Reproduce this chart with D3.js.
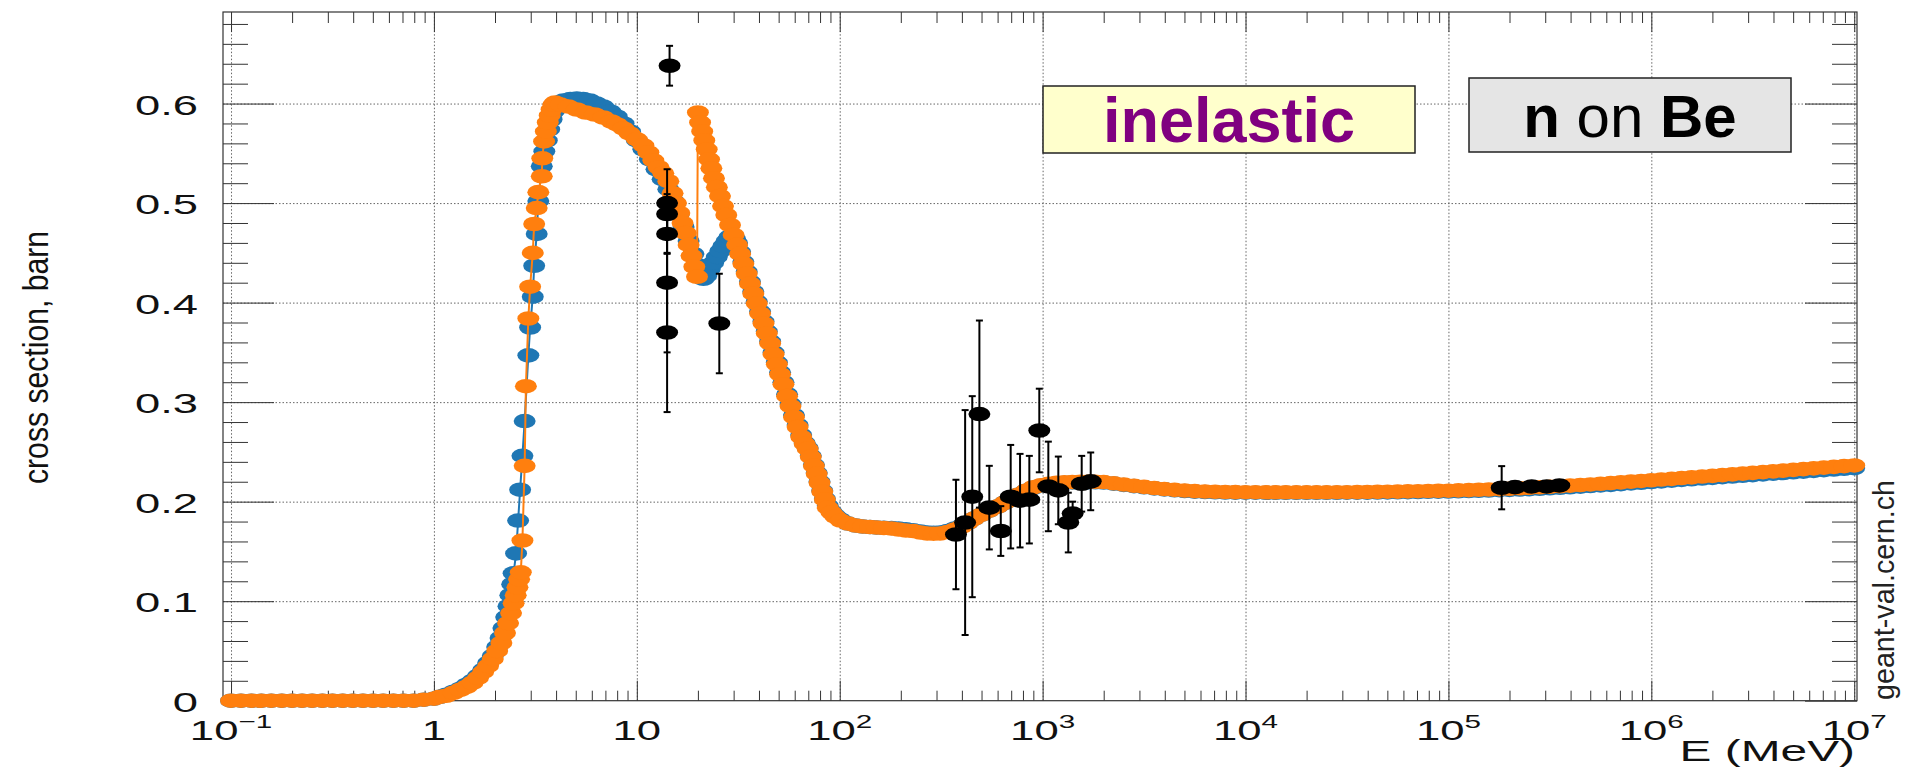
<!DOCTYPE html>
<html>
<head>
<meta charset="utf-8">
<script src="https://d3js.org/d3.v7.min.js"></script>
<style>
body{margin:0;background:#fff;}
svg{display:block;font-family:"Liberation Sans",Arial,sans-serif;}
</style>
</head>
<body>
<svg width="1912" height="768"></svg>
<script>

// model 1 (orange)
const orangeE=[0.1,0.112,0.126,0.141,0.158,0.178,0.2,0.224,0.251,0.282,0.316,0.355,0.398,0.447,0.501,0.562,0.631,0.708,0.794,0.891,1.0,
1.07,1.15,1.25,1.35,1.45,1.55,1.65,1.75,1.85,1.95,2.05,2.15,2.24,2.32,2.40,2.47,2.53,2.58,2.63,2.68,
2.73,2.80,2.84,2.92,2.98,3.07,3.12,3.21,3.27,3.40,3.42,3.49,3.56,3.64,3.72,3.80,3.88,3.95,
4.2,4.6,5.06,5.6,6.2,6.84,7.5,8.0,8.58,9.2,10.0,10.77,11.4,12.06,12.8,13.5,14.3,15.0,15.6,16.2,16.8,17.4,18.0,18.6,19.2,19.8,
20.0,20.5,21.0,21.5,22.1,22.7,23.3,24.0,24.8,25.7,26.6,27.6,28.8,30.0,31.2,32.3,33.5,34.8,36.1,37.5,39.0,40.5,42.1,43.7,45.4,47.2,49.0,50.8,52.8,55.0,57.2,59.5,62.0,64.6,67.2,69.5,72.0,74.6,77.0,79.5,82.0,84.5,87.3,91.0,95.0,
101,110,120,130,141,152,165,180,195,212,230,250,270,290,312,340,370,400,430,460,500,545,600,650,700,760,830,900,980,1070,1170,1280,1400,1530,1670,1820,
2000,2240,2510,2820,3160,3550,3980,4470,5010,5620,6310,7080,7940,8910,
1.0e4,1.12e4,1.26e4,1.41e4,1.58e4,1.78e4,2.0e4,2.24e4,2.51e4,2.82e4,3.16e4,3.55e4,3.98e4,4.47e4,5.01e4,5.62e4,6.31e4,7.08e4,7.94e4,8.91e4,
1.0e5,1.12e5,1.26e5,1.41e5,1.58e5,1.78e5,2.0e5,2.24e5,2.51e5,2.82e5,3.16e5,3.55e5,3.98e5,4.47e5,5.01e5,5.62e5,6.31e5,7.08e5,7.94e5,8.91e5,
1.0e6,1.12e6,1.26e6,1.41e6,1.58e6,1.78e6,2.0e6,2.24e6,2.51e6,2.82e6,3.16e6,3.55e6,3.98e6,4.47e6,5.01e6,5.62e6,6.31e6,7.08e6,7.94e6,8.91e6,1.0e7];
const orangeXS=[0,0,0,0,0,0,0,0,0,0,0,0,0,0,0,0,0,0,0,0.001,0.002,
0.004,0.005,0.008,0.011,0.014,0.018,0.023,0.029,0.035,0.042,0.050,0.058,0.068,0.078,0.088,0.098,0.106,0.114,0.122,0.129,
0.161,0.236,0.316,0.384,0.416,0.450,0.479,0.495,0.511,0.527,0.545,0.562,0.572,0.581,0.588,0.594,0.599,0.601,
0.599,0.597,0.594,0.591,0.589,0.586,0.582,0.579,0.575,0.570,0.564,0.558,0.551,0.543,0.536,0.530,0.522,0.510,0.500,0.490,0.480,0.470,0.458,0.447,0.436,0.426,
0.591,0.581,0.572,0.563,0.554,0.544,0.535,0.525,0.516,0.507,0.497,0.488,0.478,0.468,0.458,0.449,0.439,0.429,0.419,0.409,0.399,0.389,0.379,0.369,0.359,0.348,0.338,0.328,0.318,0.306,0.296,0.285,0.275,0.265,0.258,0.253,0.245,0.236,0.228,0.219,0.210,0.202,0.194,0.189,0.185,
0.181,0.178,0.176,0.175,0.1745,0.174,0.1735,0.173,0.172,0.171,0.1705,0.169,0.168,0.1678,0.168,0.1695,0.172,0.175,0.179,0.183,0.187,0.191,0.195,0.199,0.203,0.207,0.211,0.2145,0.2165,0.218,0.219,0.2195,0.2197,0.2199,0.22,0.22,
0.2197,0.2185,0.2172,0.2160,0.2148,0.2137,0.2127,0.2118,0.2112,0.2106,0.2102,0.2099,0.2097,0.2096,
0.2095,0.2095,0.2094,0.2094,0.2094,0.2094,0.2094,0.2094,0.2094,0.2095,0.2095,0.2096,0.2097,0.2098,0.2100,0.2101,0.2103,0.2105,0.2107,0.2108,
0.2110,0.2113,0.2116,0.2119,0.2122,0.2126,0.2130,0.2134,0.2139,0.2144,0.2149,0.2155,0.2161,0.2167,0.2173,0.2180,0.2187,0.2194,0.2201,0.2208,
0.2215,0.2222,0.2229,0.2237,0.2244,0.2252,0.2259,0.2267,0.2274,0.2282,0.2289,0.2297,0.2304,0.2312,0.2319,0.2327,0.2334,0.2342,0.2349,0.2357,0.2364];

// model 2 (blue)
const blueE=[0.1,0.112,0.126,0.141,0.158,0.178,0.2,0.224,0.251,0.282,0.316,0.355,0.398,0.447,0.501,0.562,0.631,0.708,0.794,0.891,1.0,
1.07,1.15,1.25,1.35,1.45,1.55,1.65,1.75,1.85,1.95,2.05,2.13,2.20,2.27,2.33,2.38,2.43,2.47,
2.54,2.60,2.66,2.73,2.80,2.92,2.98,3.07,3.12,3.21,3.27,3.40,3.50,3.60,3.70,3.80,3.90,4.05,4.34,
4.7,5.06,5.45,5.88,6.34,6.84,7.4,7.96,8.6,9.26,10.0,10.77,11.6,12.5,13.4,14.3,15.2,16.1,17.0,18.0,19.0,19.8,20.5,21.3,22.0,22.9,23.8,24.8,25.8,26.7,27.7,28.6,29.6,
30.5,31.2,32.3,33.5,34.8,36.1,37.5,39.0,40.5,42.1,43.7,45.4,47.2,49.0,50.8,52.8,55.0,57.2,59.5,62.0,64.6,67.2,69.5,72.0,74.6,77.0,79.5,82.0,84.5,87.3,91.0,95.0,
101,110,120,130,141,152,165,180,195,212,230,250,270,290,312,340,370,400,430,460,500,545,600,650,700,760,830,900,980,1070,1170,1280,1400,1530,1670,1820,
2000,2240,2510,2820,3160,3550,3980,4470,5010,5620,6310,7080,7940,8910,
1.0e4,1.12e4,1.26e4,1.41e4,1.58e4,1.78e4,2.0e4,2.24e4,2.51e4,2.82e4,3.16e4,3.55e4,3.98e4,4.47e4,5.01e4,5.62e4,6.31e4,7.08e4,7.94e4,8.91e4,
1.0e5,1.12e5,1.26e5,1.41e5,1.58e5,1.78e5,2.0e5,2.24e5,2.51e5,2.82e5,3.16e5,3.55e5,3.98e5,4.47e5,5.01e5,5.62e5,6.31e5,7.08e5,7.94e5,8.91e5,
1.0e6,1.12e6,1.26e6,1.41e6,1.58e6,1.78e6,2.0e6,2.24e6,2.51e6,2.82e6,3.16e6,3.55e6,3.98e6,4.47e6,5.01e6,5.62e6,6.31e6,7.08e6,7.94e6,8.91e6,1.0e7];
const blueXS=[0,0,0,0,0,0,0,0,0,0,0,0,0,0,0,0,0,0,0,0.001,0.002,
0.004,0.006,0.009,0.012,0.016,0.020,0.025,0.031,0.038,0.045,0.054,0.063,0.073,0.084,0.095,0.106,0.117,0.128,
0.148,0.181,0.212,0.246,0.281,0.347,0.375,0.406,0.437,0.469,0.502,0.537,0.552,0.563,0.574,0.584,0.592,0.598,0.603,
0.6045,0.605,0.6045,0.603,0.600,0.597,0.592,0.587,0.580,0.572,0.563,0.554,0.544,0.534,0.524,0.514,0.502,0.489,0.476,0.462,0.449,0.438,0.429,0.424,0.427,0.434,0.440,0.446,0.452,0.457,0.462,0.466,0.467,
0.464,0.460,0.451,0.441,0.431,0.421,0.411,0.401,0.391,0.381,0.371,0.361,0.350,0.340,0.330,0.320,0.308,0.298,0.287,0.277,0.267,0.259,0.254,0.246,0.237,0.229,0.220,0.211,0.203,0.196,0.190,0.186,
0.182,0.178,0.176,0.175,0.1745,0.174,0.1738,0.1735,0.173,0.1722,0.1712,0.170,0.169,0.1688,0.169,0.1705,0.173,0.176,0.179,0.183,0.187,0.191,0.195,0.199,0.203,0.207,0.211,0.214,0.216,0.2175,0.2185,0.219,0.2193,0.2195,0.2195,0.2195,
0.2192,0.2181,0.2168,0.2156,0.2144,0.2133,0.2123,0.2114,0.2107,0.2101,0.2097,0.2094,0.2092,0.2091,
0.2090,0.2090,0.2089,0.2089,0.2089,0.2089,0.2089,0.2089,0.2089,0.2089,0.2090,0.2090,0.2091,0.2092,0.2093,0.2094,0.2096,0.2097,0.2099,0.2100,
0.2102,0.2104,0.2107,0.2109,0.2112,0.2115,0.2118,0.2122,0.2126,0.2130,0.2135,0.2140,0.2145,0.2151,0.2157,0.2163,0.2169,0.2176,0.2183,0.2190,
0.2197,0.2204,0.2211,0.2218,0.2225,0.2232,0.2239,0.2246,0.2253,0.2260,0.2267,0.2274,0.2281,0.2288,0.2295,0.2302,0.2309,0.2316,0.2323,0.2330,0.2337];

// measurements
const dataE=[14.1,14.1,14.1,14.1,14.1,14.5,25.5,374,415,450,488,546,622,696,774,860,963,1067,1195,1338,1406,1558,1726,183000,212800,257300,305000,352000];
const dataXS=[0.500,0.489,0.469,0.420,0.370,0.638,0.379,0.167,0.179,0.205,0.288,0.194,0.1705,0.205,0.201,0.202,0.2715,0.2153,0.2113,0.179,0.188,0.218,0.2204,0.214,0.2146,0.2153,0.2153,0.2163];
const dataErr=[0.034,0.020,0.020,0.070,0.080,0.020,0.050,0.055,0.113,0.101,0.094,0.042,0.025,0.052,0.047,0.044,0.042,0.045,0.034,0.030,0.012,0.028,0.029,0.0217,0.004,0.004,0.004,0.004];

const xTickExp=[-1,0,1,2,3,4,5,6,7];
const yTicks=[0,0.1,0.2,0.3,0.4,0.5,0.6];
const yTickLabels=["0","0.1","0.2","0.3","0.4","0.5","0.6"];

const frame={left:223,right:1857,top:12,bottom:700.7};

const xScale=d3.scaleLog()
.domain([0.0913,1.032e7])
.range([frame.left,frame.right]);

const yScale=d3.scaleLinear()
.domain([0,0.692])
.range([frame.bottom,frame.top]);

const svg=d3.select("svg");

const xMajor=xTickExp.map(k=>Math.pow(10,k));
const xMinor=[];
xTickExp.slice(0,-1).forEach(k=>{
  for(let m=2;m<10;m++) xMinor.push(m*Math.pow(10,k));
});
const yMinor=d3.range(1,35).map(i=>i*0.02).filter(v=>Math.abs(v*10-Math.round(v*10))>1e-6);

// grid
svg.append("g")
.attr("class","xGrid")
.attr("transform",`translate(0,${frame.bottom})`)
.call(d3.axisBottom(xScale).tickValues(xMajor).tickSize(-(frame.bottom-frame.top)).tickFormat(""))
.call(g=>g.select(".domain").remove())
.selectAll("line")
.attr("stroke","#666")
.attr("stroke-dasharray","1.5,2");

svg.append("g")
.attr("class","yGrid")
.attr("transform",`translate(${frame.left},0)`)
.call(d3.axisLeft(yScale).tickValues(yTicks.slice(1)).tickSize(-(frame.right-frame.left)).tickFormat(""))
.call(g=>g.select(".domain").remove())
.selectAll("line")
.attr("stroke","#666")
.attr("stroke-dasharray","1.5,2");

// axes ticks (inside)
function tickAxis(axis,tf,size,vals){
  svg.append("g")
  .attr("transform",tf)
  .call(axis.tickValues(vals).tickSize(size).tickFormat(""))
  .call(g=>g.select(".domain").remove())
  .selectAll("line")
  .attr("stroke","#333");
}
tickAxis(d3.axisBottom(xScale),`translate(0,${frame.bottom})`,-20,xMajor);
tickAxis(d3.axisBottom(xScale),`translate(0,${frame.bottom})`,-10,xMinor);
tickAxis(d3.axisTop(xScale),`translate(0,${frame.top})`,-20,xMajor);
tickAxis(d3.axisTop(xScale),`translate(0,${frame.top})`,-11,xMinor);
tickAxis(d3.axisLeft(yScale),`translate(${frame.left},0)`,-51,yTicks);
tickAxis(d3.axisLeft(yScale),`translate(${frame.left},0)`,-25,yMinor);
tickAxis(d3.axisRight(yScale),`translate(${frame.right},0)`,-52,yTicks);
tickAxis(d3.axisRight(yScale),`translate(${frame.right},0)`,-25,yMinor);

svg.append("rect")
.attr("x",frame.left)
.attr("y",frame.top)
.attr("width",frame.right-frame.left)
.attr("height",frame.bottom-frame.top)
.attr("fill","none")
.attr("stroke","#333")
.attr("stroke-width",1.2);

// tick labels
svg.append("g")
.selectAll("text")
.data(yTicks)
.join("text")
.attr("transform",d=>`translate(198,${yScale(d)+11}) scale(1.62,1)`)
.attr("text-anchor","end")
.attr("font-size",28)
.attr("fill","#111")
.text((d,i)=>yTickLabels[i]);

svg.append("g")
.selectAll("text")
.data(xTickExp)
.join("text")
.attr("transform",k=>`translate(${xScale(Math.pow(10,k))},740) scale(1.56,1)`)
.attr("text-anchor","middle")
.attr("font-size",28)
.attr("fill","#111")
.each(function(k){
  const t=d3.select(this);
  if(k===0) t.text("1");
  else if(k===1) t.text("10");
  else{
    t.append("tspan").text("10");
    t.append("tspan").attr("dy",-12).attr("font-size",19).text(k<0?"\u2212"+(-k):String(k));
  }
});

// axis titles
svg.append("text")
.attr("transform","translate(48,484) rotate(-90)")
.attr("font-size",35)
.attr("textLength",253)
.attr("lengthAdjust","spacingAndGlyphs")
.attr("fill","#111")
.text("cross section, barn");

svg.append("text")
.attr("transform","translate(1855,761) scale(1.65,1)")
.attr("text-anchor","end")
.attr("font-size",29)
.attr("fill","#111")
.text("E (MeV)");

svg.append("text")
.attr("transform","translate(1894,700) rotate(-90)")
.attr("font-size",29)
.attr("textLength",220)
.attr("lengthAdjust","spacingAndGlyphs")
.attr("fill","#222")
.text("geant-val.cern.ch");

// series
const line=d3.line().x(d=>xScale(d[0])).y(d=>yScale(d[1]));

function drawSeries(E,XS,color){
  const pts=E.map((e,i)=>[e,XS[i]]);
  const g=svg.append("g");
  g.append("path")
  .datum(pts)
  .attr("d",line)
  .attr("fill","none")
  .attr("stroke",color)
  .attr("stroke-width",2);
  g.selectAll("ellipse")
  .data(pts)
  .join("ellipse")
  .attr("cx",d=>xScale(d[0]))
  .attr("cy",d=>yScale(d[1]))
  .attr("rx",11)
  .attr("ry",7.3)
  .attr("fill",color);
}
drawSeries(blueE,blueXS,"#1f77b4");
drawSeries(orangeE,orangeXS,"#ff7f0e");

// data with error bars
const meas=dataE.map((e,i)=>({e:e,v:dataXS[i],err:dataErr[i]}));
const mg=svg.append("g");
mg.selectAll(".bar")
.data(meas)
.join("line")
.attr("class","bar")
.attr("x1",d=>xScale(d.e)).attr("x2",d=>xScale(d.e))
.attr("y1",d=>yScale(d.v-d.err)).attr("y2",d=>yScale(d.v+d.err))
.attr("stroke","#000").attr("stroke-width",2);
["lo","hi"].forEach(s=>{
  mg.selectAll(".cap"+s)
  .data(meas)
  .join("line")
  .attr("class","cap"+s)
  .attr("x1",d=>xScale(d.e)-3.5).attr("x2",d=>xScale(d.e)+3.5)
  .attr("y1",d=>yScale(s==="lo"?d.v-d.err:d.v+d.err))
  .attr("y2",d=>yScale(s==="lo"?d.v-d.err:d.v+d.err))
  .attr("stroke","#000").attr("stroke-width",2);
});
mg.selectAll("ellipse")
.data(meas)
.join("ellipse")
.attr("cx",d=>xScale(d.e))
.attr("cy",d=>yScale(d.v))
.attr("rx",11)
.attr("ry",7.3)
.attr("fill","#000");

// labels
svg.append("rect")
.attr("x",1043).attr("y",86).attr("width",372).attr("height",67)
.attr("fill","#ffffcc").attr("stroke","#222").attr("stroke-width",1.5);
svg.append("text")
.attr("x",1229).attr("y",142)
.attr("text-anchor","middle")
.attr("font-size",63)
.attr("font-weight","bold")
.attr("fill","#800080")
.text("inelastic");

svg.append("rect")
.attr("x",1469).attr("y",78).attr("width",322).attr("height",74)
.attr("fill","#e5e5e5").attr("stroke","#222").attr("stroke-width",1.5);
const nb=svg.append("text")
.attr("x",1630).attr("y",137)
.attr("text-anchor","middle")
.attr("font-size",60)
.attr("fill","#000");
nb.append("tspan").attr("font-weight","bold").text("n");
nb.append("tspan").text(" on ");
nb.append("tspan").attr("font-weight","bold").text("Be");

</script>
</body>
</html>
